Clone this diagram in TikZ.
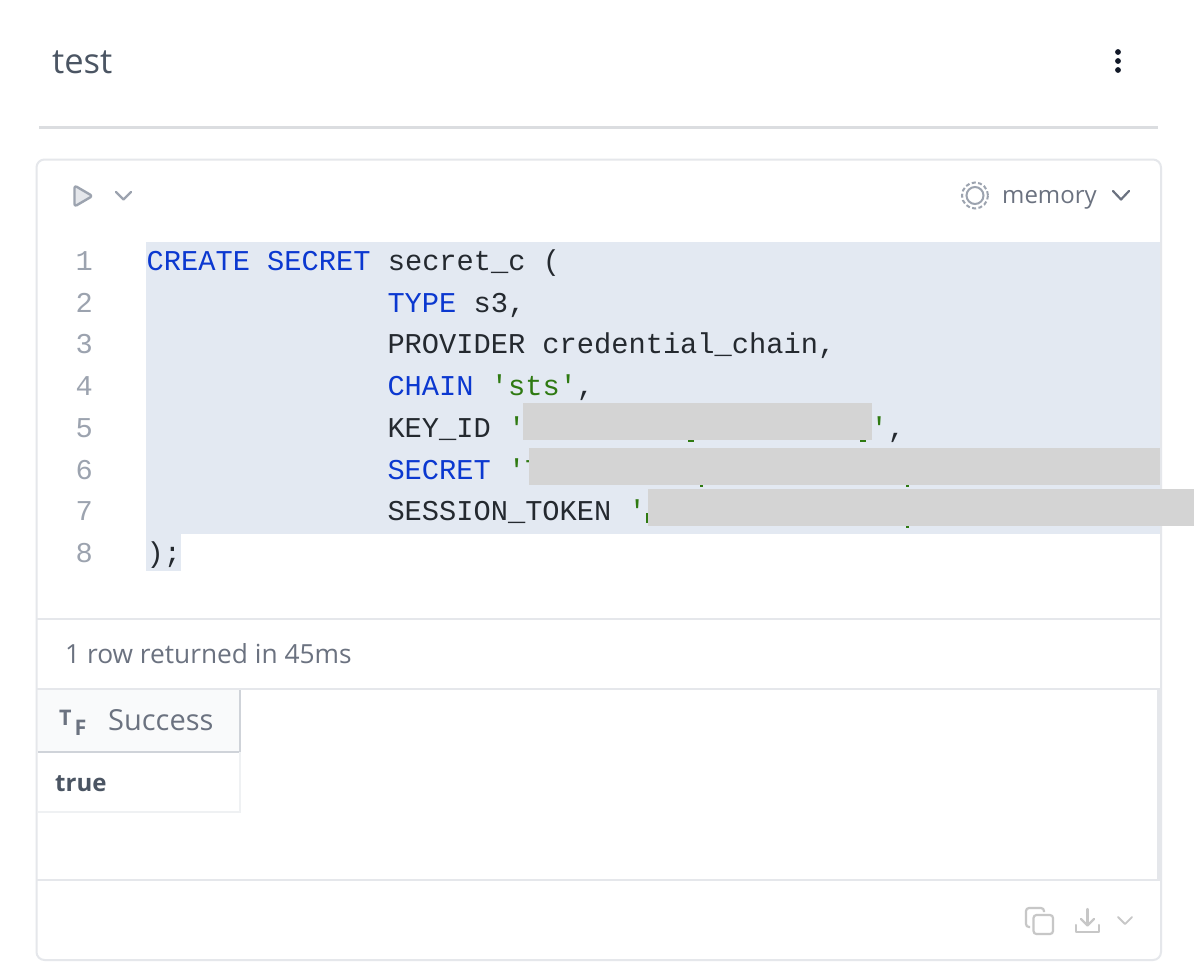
\documentclass[tikz,border=0pt]{standalone}
\usepackage{fontspec}
\setmainfont{Open Sans}
\setmonofont{Liberation Mono}
\definecolor{kw}{HTML}{0B38D0}
\definecolor{str}{HTML}{2F7A12}
\definecolor{code}{HTML}{24292F}
\definecolor{hl}{HTML}{E3E9F2}
\definecolor{redact}{HTML}{D4D4D4}
\definecolor{frame}{HTML}{E5E7EB}
\definecolor{gnum}{HTML}{9CA3AF}
\definecolor{gtext}{HTML}{6B7280}
\definecolor{dtext}{HTML}{4B5563}
\definecolor{headfill}{HTML}{F9FAFB}
\definecolor{dots}{HTML}{111827}
\tikzset{
  codeline/.style={anchor=base west,inner sep=0pt,font=\fontsize{28.7}{30}\selectfont\ttfamily,text=code},
  linenum/.style={anchor=base east,inner sep=0pt,font=\fontsize{28.7}{30}\selectfont\ttfamily,text=gnum},
  uitext/.style={anchor=base west,inner sep=0pt,text=gtext,font=\fontsize{25}{30}\selectfont},
  redactbox/.style={fill=redact,draw=none},
  rule/.style={draw=frame,line width=2pt},
  chev/.style={line width=2.2pt,line cap=round,line join=round},
}
\newcommand{\K}[1]{\textcolor{kw}{#1}}
\newcommand{\St}[1]{\textcolor{str}{#1}}
\begin{document}
\begin{tikzpicture}[x=1pt,y=-1pt]
\useasboundingbox (0,0) rectangle (1194,970);
\fill[white] (0,0) rectangle (1194,970);
% title
\node[uitext,text=dtext,font=\fontsize{34.5}{38}\selectfont] (title) at (52,73) {test};
\foreach \yy in {52,61,70} \fill[dots] (1118,\yy) circle (2.9);
\draw[draw=frame!90!gray,line width=3pt] (39,127) -- (1158,127);
% highlight
\fill[hl] (146,242) rectangle (1161,534);
\fill[hl] (146,534) rectangle (181,571);
% frame
\draw[frame,line width=2pt,rounded corners=8pt] (36.5,159.5) rectangle (1161,960);
% toolbar
\draw[draw=gnum,fill=frame,line width=2.4pt,line join=round,rounded corners=2.5pt] (74.5,185.5) -- (92.5,196) -- (74.5,206.5) -- cycle;
\draw[chev,gnum] (116,192) -- (123.5,199.5) -- (131,192);
\draw[gnum,line width=2pt,dash pattern=on 4pt off 2.4pt] (975,195.5) circle (13);
\draw[gnum,line width=2pt] (975,195.5) circle (8.5);
\node[uitext,font=\fontsize{24}{30}\selectfont] (mem) at (1002,203) {memory};
\draw[chev,gtext] (1113,191) -- (1121,199.5) -- (1129,191);
% line numbers
\node[linenum] (n1) at (93,270.5) {1};
\node[linenum] (n2) at (93,312.2) {2};
\node[linenum] (n3) at (93,353.9) {3};
\node[linenum] (n4) at (93,395.6) {4};
\node[linenum] (n5) at (93,437.3) {5};
\node[linenum] (n6) at (93,479) {6};
\node[linenum] (n7) at (93,520.7) {7};
\node[linenum] (n8) at (93,562.4) {8};
% code
\node[codeline] (c1) at (146.5,270.5) {\K{CREATE SECRET} secret\_c (};
\node[codeline] (c2) at (387.3,312.2) {\K{TYPE} s3,};
\node[codeline] (c3) at (387.3,353.9) {PROVIDER credential\_chain,};
\node[codeline] (c4) at (387.3,395.6) {\K{CHAIN} \St{'sts'},};
\node[codeline] (c5) at (387.3,437.3) {KEY\_ID \St{'}};
\node[codeline] (c5b) at (870.5,437.3) {\St{'},};
\node[codeline] (c6) at (387.3,479) {\K{SECRET} \St{'T}};
\node[codeline] (c7) at (387.3,520.7) {SESSION\_TOKEN \St{'I}};
\node[codeline] (c8) at (146.5,562.4) {);};
% tails of hidden characters below the redactions
\fill[str] (688,440) rectangle (694,441.5);
\fill[str] (860,440) rectangle (866,441.5);
\fill[str] (700,485) rectangle (703,487);
\fill[str] (906,485) rectangle (909,487);
\fill[str] (906,526) rectangle (909,528);
\fill[str] (646,513) rectangle (648,523);
% redactions
\fill[redactbox] (523,403) rectangle (872,440);
\fill[redactbox] (529,448) rectangle (1160,485);
\fill[redactbox] (648,489) rectangle (1194,526);
% result section
\draw[rule] (36.5,619) -- (1161,619);
\node[uitext,font=\fontsize{26.3}{30}\selectfont] (rows) at (65,663) {1 row returned in 45ms};
\draw[rule] (36.5,689) -- (1161,689);
\fill[headfill] (37.5,690) rectangle (240,751);
\draw[draw=frame!70!gnum,line width=2pt] (240,690) -- (240,752) -- (37.5,752);
\draw[draw=frame!60!white,line width=2pt] (240,752) -- (240,812) -- (37.5,812);
\node[inner sep=0pt,anchor=base west,text=gtext,font=\bfseries\fontsize{21.5}{22}\selectfont] (tt) at (59,725) {T};
\node[inner sep=0pt,anchor=base west,text=gtext,font=\bfseries\fontsize{21.5}{22}\selectfont] (tf) at (74.5,735) {F};
\node[uitext,font=\fontsize{29}{30}\selectfont] (succ) at (108,730) {Success};
\node[uitext,text=dtext,font=\bfseries\fontsize{24}{30}\selectfont] (val) at (55,791) {true};
\draw[draw=frame,line width=3pt] (1158.5,690) -- (1158.5,880);
\draw[rule] (36.5,880) -- (1161,880);
% footer icons
\draw[redact!85!gray,line width=2.2pt,rounded corners=3pt] (1033.5,934) rectangle (1053,915);
\draw[redact!85!gray,line width=2.2pt,rounded corners=3pt] (1030,927) -- (1026,927) -- (1026,908) -- (1044,908) -- (1044,912);
\draw[chev,redact!85!gray] (1076,925) -- (1076,932) -- (1099,932) -- (1099,925);
\draw[chev,redact!85!gray] (1087.5,909) -- (1087.5,925);
\draw[chev,redact!85!gray] (1081,919) -- (1087.5,925.5) -- (1094,919);
\draw[chev,redact!85!gray,line width=1.8pt] (1118,917) -- (1125,924) -- (1132,917);
\end{tikzpicture}
\end{document}
